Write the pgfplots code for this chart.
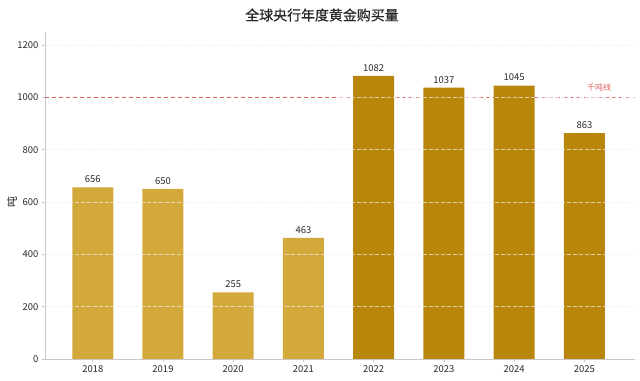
\documentclass[border=0pt]{standalone}
\usepackage{fontspec}
\setmainfont{Noto Sans CJK SC}
\usepackage{pgfplots}
\pgfplotsset{compat=1.18}
\definecolor{goldL}{RGB}{212,169,60}
\definecolor{goldD}{RGB}{184,134,11}
\definecolor{linered}{RGB}{225,95,95}
\definecolor{txt}{RGB}{40,40,40}
\definecolor{spine}{RGB}{200,200,200}
\definecolor{gridc}{RGB}{238,238,238}
\begin{document}
\begin{tikzpicture}
\useasboundingbox (-45bp,-22bp) rectangle (595bp,359bp);
\begin{axis}[
  scale only axis, width=590bp, height=327bp,
  xmin=-0.68, xmax=7.72, ymin=0, ymax=1250,
  xtick={0,...,7}, xticklabels={2018,2019,2020,2021,2022,2023,2024,2025},
  ytick={0,200,...,1200},
  axis x line*=bottom, axis y line*=left,
  axis line style={spine},
  tick align=outside, major tick length=3bp,
  tick style={spine, line width=0.6pt},
  ticklabel style={font=\fontsize{9.5}{11}\selectfont, color=txt},
  /pgf/number format/assume math mode=true,
  /pgf/number format/1000 sep={},
  ylabel={吨},
  ylabel style={at={(axis description cs:-0.056,0.48)}, anchor=center, font=\fontsize{11}{12}\selectfont, color=txt},
]
\addplot[sharp plot, draw=linered, line width=0.9pt, dash pattern=on 4bp off 3bp, mark=none, forget plot]
  coordinates {(-0.68,1000) (7.72,1000)};
\addplot[ybar, bar width=41bp, bar shift=0pt, fill=goldL, draw=none,
  nodes near coords, nodes near coords style={font=\fontsize{9.5}{11}\selectfont, color=txt, anchor=south, yshift=1bp}]
  coordinates {(0,656) (1,650) (2,255) (3,463)};
\addplot[ybar, bar width=41bp, bar shift=0pt, fill=goldD, draw=none,
  nodes near coords, nodes near coords style={font=\fontsize{9.5}{11}\selectfont, color=txt, anchor=south, yshift=1bp}]
  coordinates {(4,1082) (5,1037) (6,1045) (7,863)};
% light dashed grid lines
\addplot[sharp plot, gridc, opacity=0.7, line width=0.6pt, dash pattern=on 4bp off 2bp, no marks, forget plot] coordinates {(-0.68,200) (7.72,200)};
\addplot[sharp plot, gridc, opacity=0.7, line width=0.6pt, dash pattern=on 4bp off 2bp, no marks, forget plot] coordinates {(-0.68,400) (7.72,400)};
\addplot[sharp plot, gridc, opacity=0.7, line width=0.6pt, dash pattern=on 4bp off 2bp, no marks, forget plot] coordinates {(-0.68,600) (7.72,600)};
\addplot[sharp plot, gridc, opacity=0.7, line width=0.6pt, dash pattern=on 4bp off 2bp, no marks, forget plot] coordinates {(-0.68,800) (7.72,800)};
\addplot[sharp plot, gridc, opacity=0.7, line width=0.6pt, dash pattern=on 4bp off 2bp, no marks, forget plot] coordinates {(3.5,1000) (7.72,1000)};
\addplot[sharp plot, gridc, opacity=0.7, line width=0.6pt, dash pattern=on 4bp off 2bp, no marks, forget plot] coordinates {(-0.68,1200) (7.72,1200)};
\node[text=linered, font=\fontsize{8}{9}\selectfont, anchor=south, yshift=3bp] at (axis cs:7.21,1000) {千吨线};
\end{axis}
\node[font=\fontsize{14}{16}\selectfont, color=txt] at (277bp,344bp) {\addfontfeature{FakeBold=0.6}全球央行年度黄金购买量};
\end{tikzpicture}
\end{document}
